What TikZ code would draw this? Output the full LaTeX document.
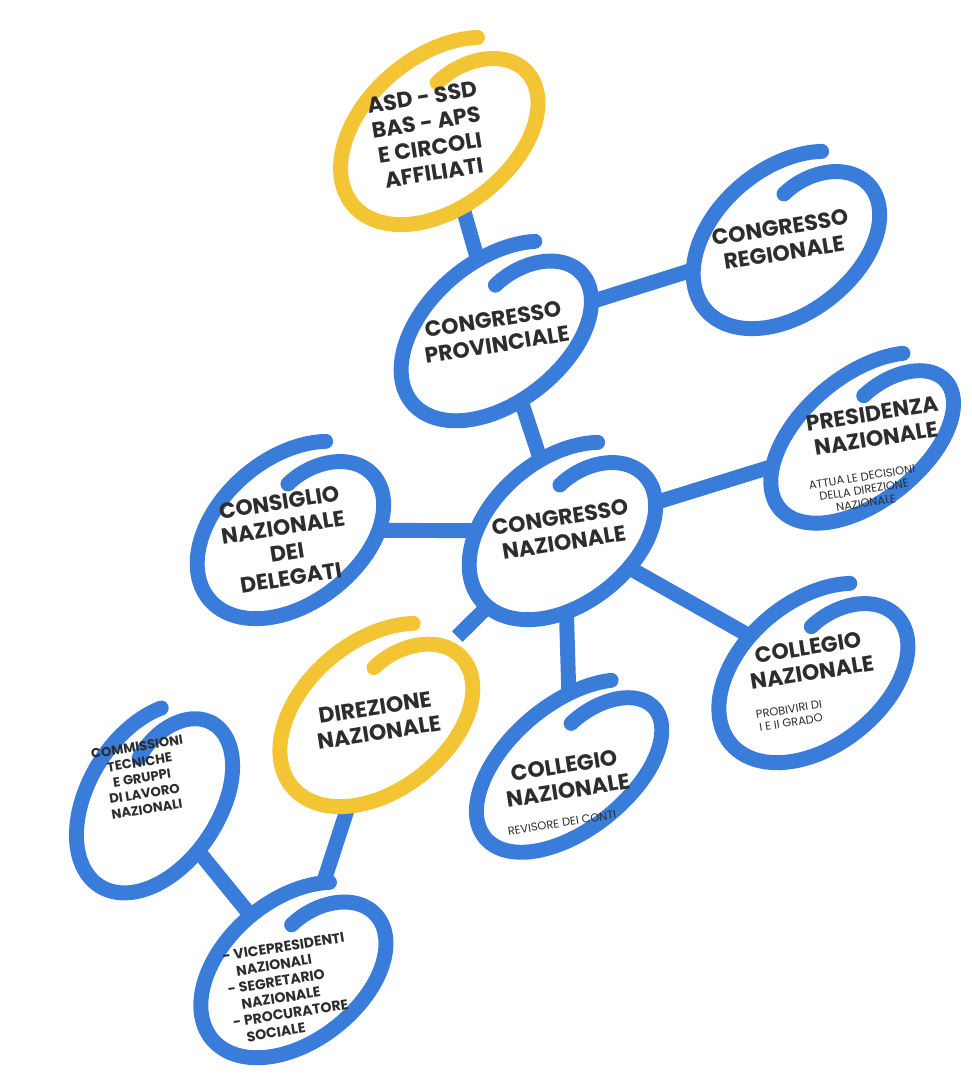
\documentclass[tikz,border=0pt]{standalone}
\usepackage{fontspec}
\setmainfont{Poppins}
\usetikzlibrary{shapes.geometric,backgrounds}

\definecolor{blu}{RGB}{58,124,218}
\definecolor{oro}{RGB}{243,197,52}
\definecolor{ink}{RGB}{45,45,45}

% open spiral ring drawn round an invisible ellipse node
\newcommand{\blob}[6][40]{%
  \node[hub, minimum width={#4*0.04cm}, minimum height={#5*0.04cm}, rotate=#1] (#2) at #3 {};
  \draw[#6, ring, shift={(#2.center)}, rotate=#1]
    plot[domain=0:385, samples=100, smooth]
    ({#4*(1-0.42*(max(0,\x-250)/135)^2)*cos(40+\x)},
     {#5*(1-0.42*(max(0,\x-250)/135)^2)*sin(40+\x)});
}

\begin{document}
\begin{tikzpicture}[x=0.02cm, y=0.02cm,
    hub/.style={ellipse, draw=none, inner sep=0pt, outer sep=0pt},
    ring/.style={line width=8.5pt, line cap=round},
    link/.style={draw=blu, line width=8.5pt},
    lbl/.style={text=ink, font=\bfseries\fontsize{12.5}{14.5}\selectfont, align=center, rotate=9, inner sep=0pt},
    mid/.style={lbl, font=\bfseries\fontsize{8}{9.5}\selectfont},
    note/.style={lbl, font=\fontsize{6.5}{7.5}\selectfont}]
  \useasboundingbox (0,0) rectangle (972,-1077);

  % rings
  \blob{asd}{(441,-131)}{115}{75}{oro}
  \blob{reg}{(788,-240)}{108}{72}{blu}
  \blob{prov}{(498,-331)}{112}{70}{blu}
  \blob{pres}{(864,-438)}{110}{62}{blu}
  \blob{cons}{(292,-530)}{108}{72}{blu}
  \blob{cn}{(564,-531)}{108}{72}{blu}
  \blob{dir}{(378,-715)}{112}{74}{oro}
  \blob{prob}{(815,-673)}{110}{72}{blu}
  \blob{rev}{(571,-766)}{112}{62}{blu}
  \blob[58]{comm}{(155,-798)}{104}{66}{blu}
  \blob{vice}{(295,-970)}{108}{70}{blu}

  % texts
  \node[lbl] (asd-t) at (428,-135) {ASD - SSD\\BAS - APS\\E CIRCOLI\\AFFILIATI};
  \node[lbl] (reg-t) at (782,-240) {CONGRESSO\\REGIONALE};
  \node[lbl] (prov-t) at (495,-332) {CONGRESSO\\PROVINCIALE};
  \node[lbl] (pres-t) at (874,-426) {PRESIDENZA\\NAZIONALE};
  \node[note] (pres-s) at (864,-490) {ATTUA LE DECISIONI\\DELLA DIREZIONE\\NAZIONALE};
  \node[lbl] (cons-t) at (285,-540) {CONSIGLIO\\NAZIONALE\\DEI\\DELEGATI};
  \node[lbl] (cn-t) at (562,-530) {CONGRESSO\\NAZIONALE};
  \node[lbl] (dir-t) at (377,-720) {DIREZIONE\\NAZIONALE};
  \node[lbl] (prob-t) at (810,-660) {COLLEGIO\\NAZIONALE};
  \node[note] (prob-s) at (790,-716) {PROBIVIRI DI\\I E II GRADO};
  \node[lbl] (rev-t) at (566,-778) {COLLEGIO\\NAZIONALE};
  \node[note] (rev-s) at (562,-823) {REVISORE DEI CONTI};
  \node[mid, font=\bfseries\fontsize{7.5}{9}\selectfont] (comm-t) at (142,-778) {COMMISSIONI\\TECNICHE\\E GRUPPI\\DI LAVORO\\NAZIONALI};
  \node[mid, align=left] (vice-t) at (290,-988) {- VICEPRESIDENTI\\\phantom{- }NAZIONALI\\- SEGRETARIO\\\phantom{- }NAZIONALE\\- PROCURATORE\\\phantom{- }SOCIALE};

  % connectors
  \begin{pgfonlayer}{background}
  \fill[white] (0,0) rectangle (972,-1077);
  \draw[link] (asd) -- (prov);
  \draw[link] (prov) -- (reg);
  \draw[link] (prov) -- (cn);
  \draw[link] (cn) -- (cons);
  \draw[link] (cn) -- (pres);
  \draw[link] (cn) -- (prob);
  \draw[link] (cn) -- (rev);
  \draw[link] (cn) -- (dir);
  \draw[link] (dir) -- (vice);
  \draw[link] (comm) -- (vice);
  \end{pgfonlayer}
\end{tikzpicture}
\end{document}
